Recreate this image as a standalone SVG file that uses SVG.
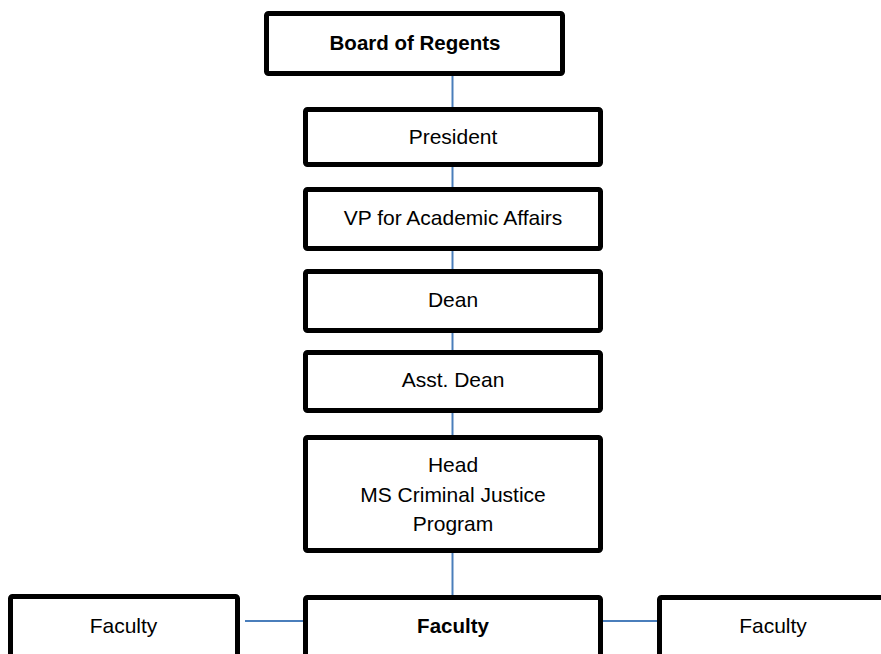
<svg xmlns="http://www.w3.org/2000/svg" width="881" height="654" viewBox="0 0 881 654">
<style>
.box{fill:#fff;stroke:#000;stroke-width:5;}
.t{font-family:"Liberation Sans",Arial,sans-serif;font-size:21px;fill:#000;text-anchor:middle;}
.b{font-weight:bold;font-size:20.5px;}
.c{stroke:#4A7EBB;stroke-width:2;fill:none;}
</style>
<rect width="881" height="654" fill="#fff"/>
<g id="connectors">
<line class="c" x1="452.5" y1="76" x2="452.5" y2="107"/>
<line class="c" x1="452.5" y1="167" x2="452.5" y2="187"/>
<line class="c" x1="452.5" y1="251" x2="452.5" y2="269"/>
<line class="c" x1="452.5" y1="333" x2="452.5" y2="350"/>
<line class="c" x1="452.5" y1="413" x2="452.5" y2="435"/>
<line class="c" x1="452.5" y1="553" x2="452.5" y2="595"/>
<line class="c" x1="245" y1="621" x2="303" y2="621"/>
<line class="c" x1="603" y1="621" x2="657" y2="621"/>
</g>
<g id="board">
<rect class="box" x="266.5" y="13.5" width="296" height="60" rx="2"/>
<text class="t b" x="415" y="50">Board of Regents</text>
</g>
<g id="president">
<rect class="box" x="305.5" y="109.5" width="295" height="55" rx="2"/>
<text class="t" x="453" y="144">President</text>
</g>
<g id="vp">
<rect class="box" x="305.5" y="189.5" width="295" height="59" rx="2"/>
<text class="t" x="453" y="225">VP for Academic Affairs</text>
</g>
<g id="dean">
<rect class="box" x="305.5" y="271.5" width="295" height="59" rx="2"/>
<text class="t" x="453" y="307">Dean</text>
</g>
<g id="asst-dean">
<rect class="box" x="305.5" y="352.5" width="295" height="58" rx="2"/>
<text class="t" x="453" y="387">Asst. Dean</text>
</g>
<g id="head">
<rect class="box" x="305.5" y="437.5" width="295" height="113" rx="2"/>
<text class="t" x="453" y="472">Head</text>
<text class="t" x="453" y="502">MS Criminal Justice</text>
<text class="t" x="453" y="531">Program</text>
</g>
<g id="faculty-center">
<rect class="box" x="305.5" y="597.5" width="295" height="80" rx="2"/>
<text class="t b" x="453" y="633">Faculty</text>
</g>
<g id="faculty-left">
<rect class="box" x="10.5" y="596.5" width="227" height="80" rx="2"/>
<text class="t" x="123.5" y="633">Faculty</text>
</g>
<g id="faculty-right">
<rect class="box" x="659.5" y="597.5" width="230" height="80" rx="2"/>
<text class="t" x="773" y="633">Faculty</text>
</g>
</svg>
